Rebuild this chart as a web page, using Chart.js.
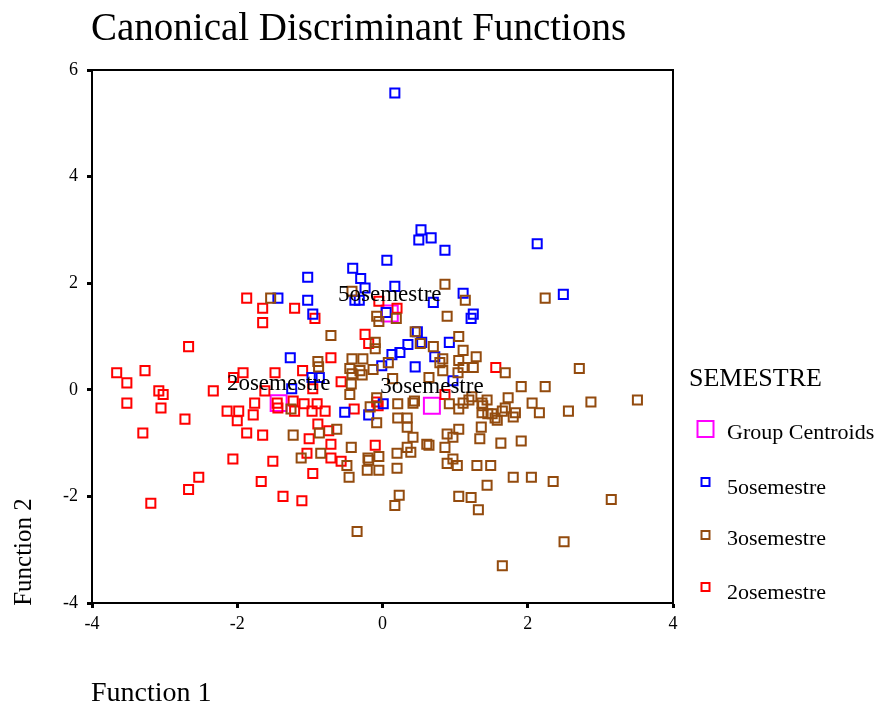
<!DOCTYPE html>
<html><head><meta charset="utf-8">
<script src="https://cdn.jsdelivr.net/npm/chart.js@4.4.1/dist/chart.umd.min.js"></script>
<style>html,body{margin:0;padding:0;background:#fff;}canvas{display:block;}</style>
</head><body>
<canvas id="c" width="881" height="708"></canvas>
<script>
const titleText = 'Canonical Discriminant Functions';
const xAxisTitle = 'Function 1';
const yAxisTitle = 'Function 2';
const legendTitle = 'SEMESTRE';
const xTicks = [-4, -2, 0, 2, 4];
const yTicks = [-4, -2, 0, 2, 4, 6];

const groupNames = ['5osemestre', '3osemestre', '2osemestre'];
const centroidX = [0.10, 0.68, -1.43];
const centroidY = [1.43, -0.30, -0.25];

const sem5X = [0.17,0.53,0.50,0.67,0.86,2.13,2.49,-1.03,-0.41,-0.30,-0.24,0.06,0.17,-1.44,-1.03,-0.38,-0.32,1.11,1.25,1.22,-0.96,0.05,0.70,0.48,0.35,0.54,0.24,0.13,0.92,0.72,0.45,-0.01,-1.27,0.97,-0.97,-0.87,-1.25,-0.52,-0.19,0.01];
const sem5Y = [5.57,3.00,2.81,2.85,2.62,2.74,1.79,2.11,2.28,2.09,1.91,2.43,1.94,1.72,1.68,1.68,1.68,1.81,1.42,1.34,1.42,1.45,1.64,1.09,0.85,0.89,0.70,0.66,0.89,0.62,0.43,0.45,0.60,0.17,0.23,0.23,0.02,-0.42,-0.47,-0.26];

const sem2X = [-3.66,-3.52,-3.27,-2.67,-3.08,-3.02,-3.52,-3.05,-2.72,-3.30,-2.33,-2.05,-1.92,-1.48,-1.62,-1.76,-2.14,-1.98,-2.00,-1.78,-1.87,-1.65,-1.45,-1.44,-2.06,-1.51,-2.53,-2.67,-1.67,-3.19,-1.37,-1.11,-1.87,-1.65,-1.65,-1.21,-0.93,-0.05,0.20,-0.24,-0.19,-0.71,-1.10,-0.57,-1.23,-1.08,-0.90,-1.21,-0.97,-0.79,-0.39,-0.08,-0.06,-0.89,-0.74,-1.01,-0.71,-0.10,-1.04,-0.71,-0.57,-0.96,1.56,0.86,-0.96];
const sem2Y = [0.32,0.13,0.36,0.81,-0.02,-0.09,-0.25,-0.34,-0.55,-0.81,-0.02,0.23,0.32,0.32,-0.02,-0.25,-0.40,-0.40,-0.58,-0.47,-0.81,-0.85,-0.25,-0.34,-1.30,-1.34,-1.64,-1.87,-1.72,-2.13,-2.00,-2.08,1.72,1.53,1.26,1.53,1.34,1.66,1.53,1.04,0.87,0.60,0.36,0.15,-0.21,-0.26,-0.26,-0.40,-0.40,-0.40,-0.36,-0.23,-0.30,-0.64,-0.77,-0.92,-1.02,-1.04,-1.19,-1.28,-1.34,-1.57,0.42,-0.09,0.02];

const sem3X = [-1.54,-0.42,-0.71,-0.08,-0.05,0.19,0.45,0.52,-0.10,-0.10,0.86,1.14,2.24,0.89,1.05,0.70,1.11,1.29,0.83,0.79,1.05,0.83,1.11,1.25,1.69,1.04,0.64,-0.89,-0.88,-0.45,-0.27,-0.42,-0.31,-0.42,-0.13,0.08,-0.43,-0.45,0.14,-0.28,-0.08,-0.17,0.21,0.42,0.44,0.21,0.34,0.34,0.42,0.34,0.39,-1.23,-0.63,-0.87,-0.43,-0.85,-1.12,-0.20,-0.19,-0.05,0.20,-0.49,-0.46,-0.21,-0.05,0.20,0.61,-0.08,-1.26,1.91,2.24,2.71,0.92,1.05,1.11,1.19,1.23,1.37,1.38,1.44,1.37,1.45,1.51,1.55,1.58,1.65,1.69,1.73,1.83,1.80,2.06,2.16,2.56,2.87,3.51,1.36,1.34,1.05,0.89,0.97,0.86,0.64,1.63,1.91,0.89,0.97,1.03,1.49,1.30,1.80,2.05,2.35,1.44,1.32,1.05,1.22,0.23,0.17,-0.35,2.50,1.65,3.15];
const sem3Y = [1.72,1.85,1.02,1.38,1.28,1.34,1.09,0.87,0.89,0.77,1.98,1.68,1.72,1.38,1.00,0.81,0.74,0.62,0.58,0.51,0.55,0.36,0.42,0.42,0.32,0.32,0.23,0.53,0.43,0.40,0.58,0.58,0.36,0.30,0.38,0.51,0.11,-0.09,0.21,0.28,-0.15,-0.32,-0.26,-0.25,-0.21,-0.53,-0.53,-0.70,-0.89,-1.08,-1.17,-0.85,-0.74,-0.81,-1.08,-1.19,-1.28,-1.28,-1.32,-1.25,-1.19,-1.42,-1.64,-1.51,-1.51,-1.47,-1.02,-0.62,-0.36,0.06,0.06,0.40,-0.26,-0.36,-0.25,-0.19,-0.13,-0.25,-0.30,-0.19,-0.43,-0.45,-0.45,-0.53,-0.57,-0.40,-0.34,-0.15,-0.43,-0.51,-0.25,-0.43,-0.40,-0.23,-0.19,-0.70,-0.92,-0.74,-0.83,-0.89,-1.08,-1.04,-1.00,-0.96,-1.38,-1.30,-1.42,-1.42,-1.42,-1.64,-1.64,-1.72,-1.79,-2.25,-2.00,-2.02,-1.98,-2.17,-2.66,-2.85,-3.30,-2.06];

const colors = { centroid: '#ff00ff', s5: '#0000ff', s3: '#934b0e', s2: '#ff0000' };
const FONT = "'Liberation Serif', 'Times New Roman', Times, serif";

function pts(xs, ys) { return xs.map((x, i) => ({ x: x, y: ys[i] })); }

const pointDs = (label, xs, ys, color, r) => ({
  label: label, data: pts(xs, ys), showLine: false,
  pointStyle: 'rect', pointRadius: r, pointHoverRadius: r,
  pointBorderWidth: 2, borderColor: color, pointBorderColor: color,
  pointBackgroundColor: 'rgba(0,0,0,0)', backgroundColor: 'rgba(0,0,0,0)'
});

const decor = {
  id: 'decor',
  afterDatasetsDraw(chart) {
    const ctx = chart.ctx, ca = chart.chartArea;
    const xs = chart.scales.x, ys = chart.scales.y;
    ctx.save();
    ctx.strokeStyle = '#000'; ctx.lineWidth = 2;
    ctx.strokeRect(ca.left, ca.top, ca.right - ca.left, ca.bottom - ca.top);
    ctx.fillStyle = '#000';
    ctx.font = '23px ' + FONT;
    ctx.textAlign = 'center'; ctx.textBaseline = 'alphabetic';
    for (let i = 0; i < groupNames.length; i++) {
      const px = xs.getPixelForValue(centroidX[i]);
      const py = ys.getPixelForValue(centroidY[i]);
      ctx.fillText(groupNames[i], px, py - 13);
    }
    ctx.restore();
  },
  afterDraw(chart) {
    const ctx = chart.ctx;
    ctx.save();
    ctx.fillStyle = '#000';
    ctx.textBaseline = 'alphabetic';
    ctx.textAlign = 'left';
    ctx.font = '39px ' + FONT;
    ctx.fillText(titleText, 91, 40);
    ctx.font = '28px ' + FONT;
    ctx.fillText(xAxisTitle, 91, 701);
    ctx.save();
    ctx.translate(31, 552);
    ctx.rotate(-Math.PI / 2);
    ctx.textAlign = 'center';
    ctx.font = '25px ' + FONT;
    ctx.fillText(yAxisTitle, 0, 0);
    ctx.restore();
    ctx.textAlign = 'left';
    ctx.font = '26px ' + FONT;
    ctx.fillText(legendTitle, 689, 386);
    const items = [
      { t: 'Group Centroids', c: colors.centroid, s: 16, my: 429, ty: 439 },
      { t: groupNames[0], c: colors.s5, s: 8, my: 482, ty: 494 },
      { t: groupNames[1], c: colors.s3, s: 8, my: 535, ty: 545 },
      { t: groupNames[2], c: colors.s2, s: 8, my: 587, ty: 599 }
    ];
    ctx.font = '22px ' + FONT;
    ctx.lineWidth = 2;
    items.forEach(it => {
      ctx.strokeStyle = it.c;
      ctx.strokeRect(705.5 - it.s / 2, it.my - it.s / 2, it.s, it.s);
      ctx.fillText(it.t, 727, it.ty);
    });
    ctx.restore();
  }
};

new Chart(document.getElementById('c'), {
  type: 'scatter',
  data: {
    datasets: [
      pointDs('3osemestre', sem3X, sem3Y, colors.s3, 6.4),
      pointDs('5osemestre', sem5X, sem5Y, colors.s5, 6.4),
      pointDs('2osemestre', sem2X, sem2Y, colors.s2, 6.4),
      pointDs('Group Centroids', centroidX, centroidY, colors.centroid, 11.3)
    ]
  },
  options: {
    responsive: false, animation: false, events: [],
    layout: { padding: { left: 0, top: 70, right: 208, bottom: 0 } },
    plugins: { legend: { display: false }, title: { display: false }, tooltip: { enabled: false } },
    scales: {
      x: {
        type: 'linear', min: -4, max: 4,
        afterBuildTicks: s => { s.ticks = xTicks.map(v => ({ value: v })); },
        afterFit: s => { s.height = 105; },
        ticks: { color: '#000', font: { family: FONT, size: 18 }, padding: 5, maxRotation: 0 },
        grid: { display: true, drawOnChartArea: false, drawTicks: true, tickLength: 5, tickWidth: 3, tickColor: '#000' },
        border: { display: true, color: '#000', width: 2 }
      },
      y: {
        type: 'linear', min: -4, max: 6,
        afterBuildTicks: s => { s.ticks = yTicks.map(v => ({ value: v })); },
        afterFit: s => { s.width = 92; },
        ticks: { color: '#000', font: { family: FONT, size: 18 }, padding: 9 },
        grid: { display: true, drawOnChartArea: false, drawTicks: true, tickLength: 5, tickWidth: 3, tickColor: '#000' },
        border: { display: true, color: '#000', width: 2 }
      }
    }
  },
  plugins: [decor]
});
</script>
</body></html>
